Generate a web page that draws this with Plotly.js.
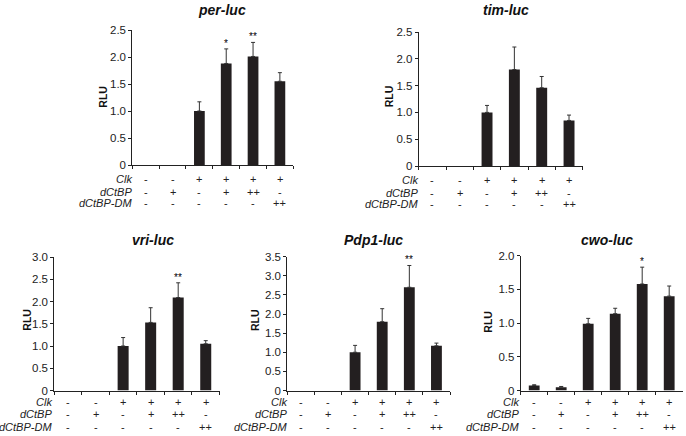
<!DOCTYPE html>
<html>
<head>
<meta charset="utf-8">
<script src="https://cdn.plot.ly/plotly-3.0.1.min.js"></script>
<style>html,body{margin:0;padding:0;background:#fff;}#chart{width:686px;height:436px;}</style>
</head>
<body>
<div id="chart"></div>
<script>
// ---- data ----
const categories = ['ctrl', 'dCtBP', 'Clk', 'Clk+dCtBP', 'Clk+dCtBP++', 'Clk+DM++'];
const clkRow  = ['-', '-', '+', '+', '+', '+'];
const ctbpRow = ['-', '+', '-', '+', '++', '-'];
const dmRow   = ['-', '-', '-', '-', '-', '++'];
const rowLabels = ['Clk', 'dCtBP', 'dCtBP-DM'];

// NaN = no error bar drawn for that bar
const perVals  = [0, 0, 1.00, 1.88, 2.01, 1.55];
const perErr   = [NaN, NaN, 0.17, 0.27, 0.26, 0.16];
const perStars = ['', '', '', '*', '**', ''];

const timVals  = [0, 0, 1.00, 1.80, 1.46, 0.85];
const timErr   = [NaN, NaN, 0.13, 0.42, 0.21, 0.10];
const timStars = ['', '', '', '', '', ''];

const vriVals  = [0, 0, 1.00, 1.53, 2.09, 1.05];
const vriErr   = [NaN, NaN, 0.19, 0.33, 0.33, 0.07];
const vriStars = ['', '', '', '', '**', ''];

const pdpVals  = [0, 0, 1.00, 1.80, 2.70, 1.17];
const pdpErr   = [NaN, NaN, 0.18, 0.34, 0.57, 0.07];
const pdpStars = ['', '', '', '', '**', ''];

const cwoVals  = [0.075, 0.05, 0.99, 1.14, 1.58, 1.40];
const cwoErr   = [0.01, 0.01, 0.08, 0.08, 0.25, 0.15];
const cwoStars = ['', '', '', '', '*', ''];

const titles = ['per-luc', 'tim-luc', 'vri-luc', 'Pdp1-luc', 'cwo-luc'];
const ticks25 = [0, 0.5, 1, 1.5, 2, 2.5];
const ticks25Text = ['0', '0.5', '1.0', '1.5', '2.0', '2.5'];
const ticks30 = [0, 0.5, 1, 1.5, 2, 2.5, 3];
const ticks30Text = ['0', '0.5', '1.0', '1.5', '2.0', '2.5', '3.0'];
const ticks35 = [0, 0.5, 1, 1.5, 2, 2.5, 3, 3.5];
const ticks35Text = ['0', '0.5', '1.0', '1.5', '2.0', '2.5', '3.0', '3.5'];
const ticks20 = [0, 0.5, 1, 1.5, 2];
const ticks20Text = ['0', '0.5', '1.0', '1.5', '2.0'];

// ---- layout geometry (pixels) ----
const W = 686, H = 436;
const px = x => x / W, py = y => 1 - y / H;
const FONT = 'Liberation Sans, Arial, Helvetica, sans-serif';
const INK = '#231f20';

const panels = [
  {vals: perVals, errs: perErr, stars: perStars, ymax: 2.5, tv: ticks25, tt: ticks25Text,
   x0: 132.3, x1: 293.3, yTop: 30, yBot: 165, titleX: 221.7, titleY: 9.5, rluX: 102.7, rluY: 97,
   rows: [179.3, 191.7, 203.3], labelX: 134},
  {vals: timVals, errs: timErr, stars: timStars, ymax: 2.5, tv: ticks25, tt: ticks25Text,
   x0: 418.7, x1: 582.7, yTop: 32, yBot: 166, titleX: 506, titleY: 9.5, rluX: 389.3, rluY: 96,
   rows: [180.3, 192.7, 204], labelX: 420},
  {vals: vriVals, errs: vriErr, stars: vriStars, ymax: 3.0, tv: ticks30, tt: ticks30Text,
   x0: 54.3, x1: 219.5, yTop: 257, yBot: 390.5, titleX: 153.3, titleY: 240, rluX: 26.7, rluY: 320,
   rows: [402.3, 414.3, 426.7], labelX: 54},
  {vals: pdpVals, errs: pdpErr, stars: pdpStars, ymax: 3.5, tv: ticks35, tt: ticks35Text,
   x0: 287.3, x1: 450, yTop: 256.7, yBot: 390.5, titleX: 373.3, titleY: 240, rluX: 255, rluY: 320,
   rows: [402.3, 414.3, 426.7], labelX: 288.5},
  {vals: cwoVals, errs: cwoErr, stars: cwoStars, ymax: 2.0, tv: ticks20, tt: ticks20Text,
   x0: 520.7, x1: 682.7, yTop: 255.7, yBot: 390.5, titleX: 606.7, titleY: 240, rluX: 487.7, rluY: 322,
   rows: [402.3, 414.3, 426.7], labelX: 520.5}
];

const data = [];
const annotations = [];
const layout = {
  width: W, height: H,
  margin: {l: 0, r: 0, t: 0, b: 0, pad: 0},
  paper_bgcolor: '#fff', plot_bgcolor: 'rgba(0,0,0,0)',
  showlegend: false,
  font: {family: FONT, size: 11, color: '#222'},
  annotations: annotations
};

panels.forEach((p, i) => {
  const k = i === 0 ? '' : String(i + 1);
  const xa = 'x' + k, ya = 'y' + k;
  data.push({
    type: 'bar', x: categories, y: p.vals, xaxis: xa, yaxis: ya,
    width: 0.4,
    marker: {color: INK, line: {width: 0}},
    error_y: {type: 'data', symmetric: false, array: p.errs,
              arrayminus: p.errs.map(e => (isNaN(e) ? NaN : 0)), color: '#333', thickness: 1, width: 2},
    hoverinfo: 'skip'
  });
  layout['xaxis' + k] = {
    domain: [px(p.x0), px(p.x1)], anchor: ya,
    type: 'category', range: [-0.5, 5.5],
    showline: true, linecolor: '#222', linewidth: 1,
    ticks: 'outside', tickson: 'boundaries', ticklen: 3, tickcolor: '#222', tickwidth: 1,
    showticklabels: false, showgrid: false, zeroline: false, fixedrange: true
  };
  layout['yaxis' + k] = {
    domain: [py(p.yBot), py(p.yTop)], anchor: xa,
    range: [0, p.ymax],
    tickvals: p.tv, ticktext: p.tt,
    showline: true, linecolor: '#222', linewidth: 1,
    ticks: 'outside', ticklen: 3, tickcolor: '#222', tickwidth: 1,
    tickfont: {family: FONT, size: 11.5, color: '#222'},
    showgrid: false, zeroline: false, fixedrange: true
  };
  // title
  annotations.push({xref: 'paper', yref: 'paper', x: px(p.titleX), y: py(p.titleY),
    xanchor: 'center', yanchor: 'middle', showarrow: false,
    text: '<b><i>' + titles[i] + '</i></b>', font: {family: FONT, size: 14, color: '#111'}});
  // RLU
  annotations.push({xref: 'paper', yref: 'paper', x: px(p.rluX), y: py(p.rluY),
    xanchor: 'center', yanchor: 'middle', showarrow: false, textangle: -90,
    text: '<b>RLU</b>', font: {family: FONT, size: 10.5, color: '#111'}});
  // row labels and symbols
  const rowsData = [clkRow, ctbpRow, dmRow];
  rowsData.forEach((row, r) => {
    annotations.push({xref: 'paper', yref: 'paper', x: px(p.labelX), y: py(p.rows[r]),
      xanchor: 'right', yanchor: 'middle', showarrow: false,
      text: '<i>' + rowLabels[r] + '</i>', font: {family: FONT, size: 11, color: '#222'}});
    row.forEach((sym, c) => {
      annotations.push({xref: xa, yref: 'paper', x: categories[c], y: py(p.rows[r]),
        xanchor: 'center', yanchor: 'middle', showarrow: false,
        text: sym, font: {family: FONT, size: 11, color: '#222'}});
    });
  });
  // significance stars
  p.stars.forEach((s, c) => {
    if (!s) return;
    annotations.push({xref: xa, yref: ya, x: categories[c], y: p.vals[c] + p.errs[c],
      xanchor: 'center', yanchor: 'bottom', yshift: -2, showarrow: false,
      text: s, font: {family: FONT, size: 10, color: '#000'}});
  });
});

Plotly.newPlot('chart', data, layout, {staticPlot: true, displayModeBar: false});
</script>
</body>
</html>
